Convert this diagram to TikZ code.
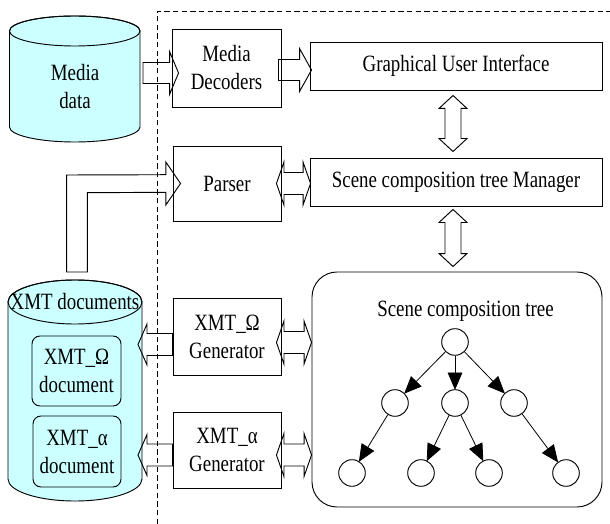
\documentclass[tikz,border=0pt]{standalone}
\usepackage{fontspec}
\setmainfont{Liberation Serif}[FakeStretch=0.81]
\usepackage{tikz}
\usetikzlibrary{arrows.meta,calc}

\definecolor{canfill}{RGB}{204,255,255}

\tikzset{
  txt/.style={inner sep=0pt, align=center, font=\fontsize{17.5}{21}\selectfont},
  blk/.style={draw, line width=0.7pt, inner sep=0pt, align=center, font=\fontsize{17.5}{21}\selectfont},
  fat/.style={draw, line width=0.7pt, line join=miter},
  can/.style={draw, line width=0.7pt, fill=canfill},
  dot/.style={draw, line width=0.7pt, circle, minimum size=26.6pt*0.75, inner sep=0pt},
  link/.style={line width=0.6pt, -{Triangle[length=13pt,width=11pt]}, shorten >=-0.5pt},
  frame/.style={line width=0.7pt, dash pattern=on 4pt off 2.5pt}
}

% horizontal fat arrow, tip to the right: tail, tip, head length
\newcommand{\fatR}[3]{%
\draw[fat] ($(#1)+(0,-10.5)$) -- ($(#2)+(-#3,-10.5)$) -- ($(#2)+(-#3,-21.5)$) -- (#2) -- ($(#2)+(-#3,21.5)$) -- ($(#2)+(-#3,10.5)$) -- ($(#1)+(0,10.5)$) -- cycle ;}
% horizontal fat arrow, tip to the left: tail, tip, head length
\newcommand{\fatL}[3]{%
\draw[fat] ($(#1)+(0,-11)$) -- ($(#2)+(#3,-11)$) -- ($(#2)+(#3,-20.5)$) -- (#2) -- ($(#2)+(#3,20.5)$) -- ($(#2)+(#3,11)$) -- ($(#1)+(0,11)$) -- cycle ;}
% horizontal fat double arrow: left tip, right tip, head length
\newcommand{\fatLR}[3]{%
\draw[fat] (#1) -- ($(#1)+(#3,-21.5)$) -- ($(#1)+(#3,-11)$) -- ($(#2)+(-#3,-11)$) -- ($(#2)+(-#3,-21.5)$) -- (#2) -- ($(#2)+(-#3,21.5)$) -- ($(#2)+(-#3,11)$) -- ($(#1)+(#3,11)$) -- ($(#1)+(#3,21.5)$) -- cycle ;}
% vertical fat double arrow: top tip, bottom tip, head length
\newcommand{\fatUD}[3]{%
\draw[fat] (#1) -- ($(#1)+(14,#3)$) -- ($(#1)+(8,#3)$) -- ($(#2)+(8,-#3)$) -- ($(#2)+(14,-#3)$) -- (#2) -- ($(#2)+(-14,-#3)$) -- ($(#2)+(-8,-#3)$) -- ($(#1)+(-8,#3)$) -- ($(#1)+(-14,#3)$) -- cycle ;}

\begin{document}
\begin{tikzpicture}[x=0.75pt,y=0.75pt,yscale=-1,xscale=1]
\useasboundingbox (0,0) rectangle (610,524);

%Shape: Can [media data]
\draw[can] (9.5,31) -- (9.5,127) arc[start angle=180, end angle=0, x radius=65.25, y radius=15] -- (140,31) arc[start angle=0, end angle=-180, x radius=65.25, y radius=15] -- cycle ;
\draw[line width=0.7pt] (74.75,31) ellipse[x radius=65.25, y radius=15] ;
% Text Node
\node[txt] (media) at (75,87) {Media\\data};

%Shape: Can [XMT documents]
\draw[can] (8,302) -- (8,479) arc[start angle=180, end angle=0, x radius=67, y radius=22] -- (142,302) arc[start angle=0, end angle=-180, x radius=67, y radius=22] -- cycle ;
\draw[line width=0.7pt] (75,302) ellipse[x radius=67, y radius=22] ;
% Text Node
\node[txt] (xmt) at (75,302) {XMT documents};

%Shape: Rectangle [inner documents]
\node[blk, fill=canfill, rounded corners=8pt*0.75, minimum width=89*0.75pt, minimum height=70*0.75pt] (docO) at (76.5,371) {XMT\_Ω\\document};
\node[blk, fill=canfill, rounded corners=8pt*0.75, minimum width=88*0.75pt, minimum height=71*0.75pt] (docA) at (77,451.5) {XMT\_α\\document};

%Shape: Rectangle [middle column]
\node[blk, minimum width=109*0.75pt, minimum height=78*0.75pt] (dec) at (226.5,68) {Media\\Decoders};
\node[blk, minimum width=108*0.75pt, minimum height=75*0.75pt] (parser) at (227,183.5) {Parser};
\node[blk, minimum width=108*0.75pt, minimum height=77*0.75pt] (genO) at (227,336.5) {XMT\_Ω\\Generator};
\node[blk, minimum width=108*0.75pt, minimum height=76*0.75pt] (genA) at (227,450) {XMT\_α\\Generator};

%Shape: Rectangle [right column]
\node[blk, minimum width=292*0.75pt, minimum height=48*0.75pt] (gui) at (456,66) {Graphical User Interface};
\node[blk, minimum width=292*0.75pt, minimum height=48*0.75pt] (mgr) at (456,182) {Scene composition tree Manager};
\node[blk, rounded corners=25pt*0.75, minimum width=290*0.75pt, minimum height=235*0.75pt] (tree) at (457,389.5) {};
% Text Node
\node[txt] (treetitle) at (465.5,311) {Scene composition tree};

%Shape: Circle [tree]
\node[dot] (r) at (455,342) {};
\node[dot] (a) at (395,403) {};
\node[dot] (b) at (455,403) {};
\node[dot] (c) at (514,403) {};
\node[dot] (a1) at (352,473) {};
\node[dot] (b1) at (421,473) {};
\node[dot] (b2) at (489,473) {};
\node[dot] (c1) at (566,473) {};
%Straight Lines [tree]
\foreach \from/\to in {r/a, r/b, r/c, a/a1, b/b1, b/b2, c/c1}
  \draw[link] (\from) -- (\to) ;

%Block Arrows
\coordinate (mediaR) at (143,73) ;
\coordinate (decIn) at ($(dec.west)+(7,5)$) ;
\fatR{mediaR}{decIn}{9}
\coordinate (decOut) at ($(dec.east)+(-3,2)$) ;
\coordinate (guiIn) at ($(gui.west)+(2,4)$) ;
\fatR{decOut}{guiIn}{12}
\coordinate (parserOut) at ($(parser.east)+(-5,0)$) ;
\coordinate (mgrIn) at ($(mgr.west)+(1,1.5)$) ;
\fatLR{parserOut}{mgrIn}{7.5}
\coordinate (guiOut) at ($(gui.south)+(-3,5)$) ;
\coordinate (mgrTop) at ($(mgr.north)+(-3,-6)$) ;
\fatUD{guiOut}{mgrTop}{13}
\coordinate (mgrOut) at ($(mgr.south)+(-3,3)$) ;
\coordinate (treeTop) at ($(tree.north)+(-4,-5)$) ;
\fatUD{mgrOut}{treeTop}{13}
\coordinate (xmtO) at (138,344.5) ;
\coordinate (xmtA) at (138,455) ;
\fatL{genO.west |- xmtO}{xmtO}{9}
\fatL{genA.west |- xmtA}{xmtA}{9}
\coordinate (genOout) at ($(genO.east |- r)+(-5,0.5)$) ;
\coordinate (treeInO) at ($(tree.west |- r)+(0,0.5)$) ;
\fatLR{genOout}{treeInO}{7.5}
\coordinate (genAout) at ($(genA.east)+(-5,5)$) ;
\coordinate (treeInA) at ($(tree.west |- genAout)$) ;
\fatLR{genAout}{treeInA}{7.5}
%Block Arrow [XMT documents to Parser]
\coordinate (parserIn) at ($(parser.west)+(8,0)$) ;
\draw[fat] (66.7,272) -- (66.7,175) -- ($(parserIn)+(-14.7,-8.8)$) -- ($(parserIn)+(-14.7,-21.5)$) -- (parserIn) -- ($(parserIn)+(-14.7,21.5)$) -- ($(parserIn)+(-14.7,8.8)$) -- (87.3,192.7) -- (87.3,272) -- cycle ;

%Straight Lines [frame]
\draw[frame] (157.3,524) -- (157.3,11) -- (610,11) ;

\end{tikzpicture}
\end{document}
